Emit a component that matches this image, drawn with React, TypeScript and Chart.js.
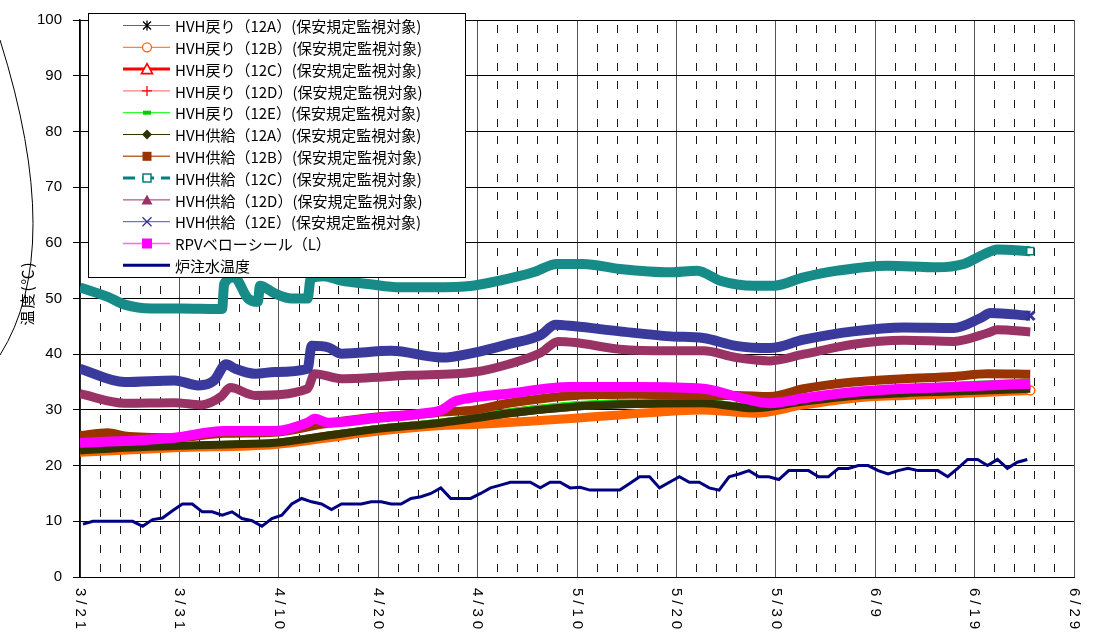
import React, { useEffect, useRef } from "react";
import { Chart, registerables } from "chart.js";

Chart.register(...registerables);

// x tick labels (every 10 days from 3/21)
const xTickLabels = ["3/21", "3/31", "4/10", "4/20", "4/30", "5/10", "5/20", "5/30", "6/9", "6/19", "6/29"];

const seriesNames = [
  "HVH戻り（12A）(保安規定監視対象)",
  "HVH戻り（12B）(保安規定監視対象)",
  "HVH戻り（12C）(保安規定監視対象)",
  "HVH戻り（12D）(保安規定監視対象)",
  "HVH戻り（12E）(保安規定監視対象)",
  "HVH供給（12A）(保安規定監視対象)",
  "HVH供給（12B）(保安規定監視対象)",
  "HVH供給（12C）(保安規定監視対象)",
  "HVH供給（12D）(保安規定監視対象)",
  "HVH供給（12E）(保安規定監視対象)",
  "RPVベローシール（L）",
  "炉注水温度",
];

// days since 3/21
const lowDays = [0, 4.5, 9.5, 15, 19.6, 24.6, 29.6, 36.4, 39.7, 43.1, 49.8, 54.3, 62.7, 67.8, 72.8, 77.8, 82.9, 87.9, 95.6];
const ret12A = [22.3, 23.0, 23.3, 23.6, 23.9, 25.0, 26.2, 27.4, 28.2, 29.1, 30.3, 30.7, 30.9, 30.0, 31.2, 32.2, 32.7, 33.0, 33.5];
const ret12C = [22.9, 23.4, 23.7, 24.0, 24.3, 25.6, 26.8, 28.0, 28.8, 29.8, 31.0, 31.4, 31.5, 30.6, 31.8, 32.8, 33.3, 33.6, 34.1];
const ret12D = [22.8, 23.3, 23.6, 23.9, 24.2, 25.5, 26.7, 27.9, 28.7, 29.6, 30.9, 31.3, 31.4, 30.5, 31.7, 32.7, 33.2, 33.5, 34.0];
const ret12E = [22.9, 23.4, 23.7, 24.0, 24.3, 25.5, 26.8, 28.0, 28.8, 29.8, 31.1, 31.4, 31.5, 30.6, 32.0, 33.2, 34.0, 34.6, 35.2];
const sup12A = [22.7, 23.2, 23.5, 23.8, 24.1, 25.3, 26.5, 27.7, 28.5, 29.4, 30.6, 31.0, 31.2, 30.3, 31.5, 32.5, 33.0, 33.3, 33.8];

const ret12BDays = [0, 9.5, 19.6, 24.6, 29.6, 36.4, 39.7, 49.8, 54.3, 62.7, 67.8, 72.8, 77.8, 82.9, 87.9, 95.6];
const ret12B = [22.4, 23.2, 23.8, 24.9, 26.1, 27.2, 27.4, 28.5, 29.1, 30.0, 29.4, 30.9, 32.1, 32.6, 32.9, 33.5];

const sup12BDays = [0, 2.8, 4.5, 9.5, 14.5, 19.6, 24.6, 29.6, 34.7, 36.4, 39.7, 43.1, 49.8, 56, 62.7, 66, 69.4, 72.8, 77.8, 82.9, 87.9, 91.3, 95.6];
const sup12B = [25.4, 25.9, 25.3, 25.0, 25.8, 26.0, 27.5, 28.7, 29.3, 29.6, 30.0, 31.2, 32.6, 32.8, 32.6, 32.6, 32.4, 33.8, 35.0, 35.6, 36.0, 36.5, 36.4];

const sup12CDays = [0, 2.8, 4.5, 7.2, 10.2, 13.9, 14.3, 14.5, 15.5, 16.9, 17.9, 18.1, 19.6, 21.3, 22.9, 23.2, 24.5, 26.3, 29, 32.2, 35.5, 39.5, 42.2, 45.6, 48, 50.6, 54.3, 59.4, 62.1, 64.4, 67.8, 69.8, 72.8, 76.2, 81.2, 86.2, 88.9, 90.9, 92.3, 95.6];
const sup12C = [52, 50.3, 48.9, 48.2, 48.2, 48.1, 48.1, 52.6, 53.8, 50.0, 49.4, 52.3, 50.9, 50.0, 50.0, 53.5, 54, 53.2, 52.6, 52.0, 52.0, 52.3, 53.2, 54.7, 56.2, 56.2, 55.3, 54.7, 55.0, 53.2, 52.3, 52.3, 53.8, 55.0, 55.9, 55.6, 56.2, 57.9, 58.8, 58.5];

const sup12DDays = [0, 4.5, 9.5, 12.2, 14.2, 15.1, 17.6, 22.9, 23.6, 26.3, 33, 39.7, 43.1, 46.4, 48.1, 49.8, 54.3, 59.4, 62.7, 66, 69.4, 72.8, 77.8, 82.9, 87.9, 91.3, 92.3, 95.6];
const sup12D = [32.9, 31.2, 31.3, 30.9, 32.4, 34.0, 32.6, 33.8, 36.5, 35.6, 36.2, 36.8, 38.2, 40.3, 42.3, 42.1, 40.9, 40.6, 40.6, 39.4, 38.8, 40.0, 41.8, 42.5, 42.3, 43.8, 44.4, 44.0];

const sup12EDays = [0, 4.5, 9.5, 11.9, 13.5, 14.7, 15.6, 17.6, 19.6, 22.9, 23.3, 25, 26.3, 31.3, 36.4, 39.7, 43.1, 46.4, 47.8, 49.8, 54.3, 59.4, 62.7, 66, 69.4, 72.8, 77.8, 82.9, 87.9, 90.6, 91.6, 95.6];
const sup12E = [37.4, 35.0, 35.3, 34.4, 35.3, 38.2, 37.4, 36.5, 36.8, 37.4, 41.5, 41.2, 40.1, 40.6, 39.4, 40.3, 41.8, 43.5, 45.3, 45.0, 44.1, 43.2, 42.9, 41.5, 41.1, 42.6, 44.1, 44.8, 44.7, 46.5, 47.4, 46.9];

const rpvDays = [0, 4.5, 9.5, 14.5, 19.6, 22.9, 23.6, 25, 29.6, 34.7, 36.4, 37.7, 39.1, 43.1, 49.3, 56, 62.7, 66, 69.4, 72.8, 77.8, 82.9, 87.9, 95.6];
const rpv = [24.1, 24.4, 25.0, 26.2, 26.2, 27.7, 28.4, 27.7, 28.5, 29.4, 30.0, 31.5, 32.1, 32.9, 34.1, 34.1, 33.8, 32.4, 31.2, 32.1, 33.2, 33.8, 34.1, 34.7];

// 炉注水温度, one reading per day
const injection = [
  9.5, 10, 10, 10, 10, 10, 9.1, 10.3, 10.6, 11.9, 13.1, 13.1, 11.7, 11.7, 11.1, 11.7, 10.5, 10.1, 9.1, 10.5,
  11.1, 13.1, 14.1, 13.5, 13.1, 12.1, 13.1, 13.1, 13.1, 13.5, 13.5, 13.1, 13.1, 14.1, 14.4, 15.0, 16.0, 14.1, 14.1, 14.1,
  15.0, 16.0, 16.5, 17.0, 17.0, 17.0, 16.0, 17.0, 17.0, 16.0, 16.1, 15.6, 15.6, 15.6, 15.6, 16.8, 18.0, 18.0, 16.0, 17.0,
  18.0, 17.0, 17.0, 16.0, 15.6, 18.0, 18.5, 19.1, 18.0, 18.0, 17.5, 19.1, 19.1, 19.1, 18.0, 18.0, 19.5, 19.5, 20.0, 20.0,
  19.1, 18.5, 19.1, 19.5, 19.1, 19.1, 19.1, 18.0, 19.5, 21.1, 21.1, 20.0, 21.1, 19.5, 20.6, 21.1,
];

const pts = (d: number[], v: number[]) => d.map((x, i) => ({ x, y: v[i] }));
const lastOnly = (n: number, r: number) => Array.from({ length: n }, (_, i) => (i === n - 1 ? r : 0));

type Leg = { line: string; lw: number; dash?: number[]; marker: string; mc: string };
const legendStyles: Leg[] = [
  { line: "#666666", lw: 1, marker: "star", mc: "#000000" },
  { line: "#FF6600", lw: 1, marker: "circleOpen", mc: "#FF6600" },
  { line: "#FF0000", lw: 3, marker: "triOpen", mc: "#FF0000" },
  { line: "#FF6060", lw: 1, marker: "plus", mc: "#FF0000" },
  { line: "#00FF00", lw: 1, marker: "dash", mc: "#00CC00" },
  { line: "#333300", lw: 1, marker: "diamond", mc: "#333300" },
  { line: "#B8663A", lw: 1.5, marker: "square", mc: "#993300" },
  { line: "#008080", lw: 3, dash: [12, 7], marker: "squareOpen", mc: "#008080" },
  { line: "#993366", lw: 1, marker: "triFill", mc: "#993366" },
  { line: "#5050B0", lw: 1, marker: "cross", mc: "#333399" },
  { line: "#FF66FF", lw: 1.5, marker: "squareBig", mc: "#FF00FF" },
  { line: "#000080", lw: 3, marker: "none", mc: "#000080" },
];

function drawMarker(ctx: CanvasRenderingContext2D, kind: string, x: number, y: number, c: string) {
  ctx.save();
  ctx.setLineDash([]);
  ctx.strokeStyle = c;
  ctx.fillStyle = c;
  ctx.lineWidth = 1.3;
  ctx.beginPath();
  switch (kind) {
    case "star":
      ctx.moveTo(x - 4, y - 4); ctx.lineTo(x + 4, y + 4);
      ctx.moveTo(x + 4, y - 4); ctx.lineTo(x - 4, y + 4);
      ctx.moveTo(x, y - 5); ctx.lineTo(x, y + 5);
      ctx.stroke();
      break;
    case "circleOpen":
      ctx.arc(x, y, 4.5, 0, Math.PI * 2);
      ctx.fillStyle = "#fff"; ctx.fill(); ctx.stroke();
      break;
    case "triOpen":
      ctx.moveTo(x, y - 5.5); ctx.lineTo(x + 5.5, y + 4.5); ctx.lineTo(x - 5.5, y + 4.5); ctx.closePath();
      ctx.fillStyle = "#fff"; ctx.fill(); ctx.lineWidth = 1.6; ctx.stroke();
      break;
    case "plus":
      ctx.moveTo(x - 5, y); ctx.lineTo(x + 5, y);
      ctx.moveTo(x, y - 5); ctx.lineTo(x, y + 5);
      ctx.stroke();
      break;
    case "dash":
      ctx.fillRect(x - 4, y - 2, 8, 4);
      break;
    case "diamond":
      ctx.moveTo(x, y - 5); ctx.lineTo(x + 5, y); ctx.lineTo(x, y + 5); ctx.lineTo(x - 5, y); ctx.closePath();
      ctx.fill();
      break;
    case "square":
      ctx.fillRect(x - 4.5, y - 4.5, 9, 9);
      break;
    case "squareBig":
      ctx.fillRect(x - 5, y - 5, 10, 10);
      break;
    case "squareOpen":
      ctx.rect(x - 4, y - 4, 8, 8);
      ctx.fillStyle = "#fff"; ctx.fill(); ctx.lineWidth = 1.5; ctx.stroke();
      break;
    case "triFill":
      ctx.moveTo(x, y - 5.5); ctx.lineTo(x + 5.5, y + 4.5); ctx.lineTo(x - 5.5, y + 4.5); ctx.closePath();
      ctx.fill();
      break;
    case "cross":
      ctx.moveTo(x - 4.5, y - 4.5); ctx.lineTo(x + 4.5, y + 4.5);
      ctx.moveTo(x + 4.5, y - 4.5); ctx.lineTo(x - 4.5, y + 4.5);
      ctx.stroke();
      break;
  }
  ctx.restore();
}

const decorPlugin = {
  id: "decor",
  beforeDatasetsDraw(chart: any) {
    const { ctx, scales } = chart;
    const x = scales.x;
    const y = scales.y;
    ctx.save();
    ctx.strokeStyle = "#1a1a1a";
    ctx.lineWidth = 1;
    ctx.beginPath();
    for (let d = 2; d < 100; d += 2) {
      if (d % 10 === 0) continue;
      const px = Math.round(x.getPixelForValue(d)) + 0.5;
      for (let k = 0; k < 10; k++) {
        const top = y.getPixelForValue((k + 1) * 10);
        for (const off of [5, 24, 43]) {
          ctx.moveTo(px, Math.round(top + off));
          ctx.lineTo(px, Math.round(top + off + 8));
        }
      }
    }
    ctx.stroke();
    ctx.restore();
  },
  afterDraw(chart: any) {
    const { ctx, scales } = chart;
    const x = scales.x;
    // rotated x labels (clockwise)
    ctx.save();
    ctx.fillStyle = "#000";
    ctx.font = '15px "Liberation Sans", Arial, sans-serif';
    (ctx as any).letterSpacing = "4px";
    xTickLabels.forEach((lab, i) => {
      const px = x.getPixelForValue(i * 10);
      ctx.save();
      ctx.translate(px, 588);
      ctx.rotate(Math.PI / 2);
      ctx.textAlign = "left";
      ctx.textBaseline = "middle";
      ctx.fillText(lab, 0, 0);
      ctx.restore();
    });
    ctx.restore();

    // y axis title
    ctx.save();
    ctx.fillStyle = "#000";
    ctx.font = '15px "Noto Sans CJK JP", sans-serif';
    (ctx as any).letterSpacing = "2px";
    ctx.translate(27, 293);
    ctx.rotate(-Math.PI / 2);
    ctx.textAlign = "center";
    ctx.textBaseline = "middle";
    ctx.fillText("温度(℃)", 0, 0);
    ctx.restore();
    ctx.save();
    ctx.strokeStyle = "#000";
    ctx.lineWidth = 1;
    ctx.beginPath();
    ctx.moveTo(0, 40);
    ctx.quadraticCurveTo(66, 250, 0, 355);
    ctx.stroke();
    ctx.restore();

    // legend box
    const bx = 88.5, by = 13.5, bw = 377, bh = 264;
    ctx.save();
    ctx.fillStyle = "#fff";
    ctx.fillRect(bx, by, bw, bh);
    ctx.strokeStyle = "#000";
    ctx.lineWidth = 1;
    ctx.strokeRect(bx, by, bw, bh);
    ctx.font = '15px "Noto Sans CJK JP", sans-serif';
    ctx.textBaseline = "middle";
    ctx.textAlign = "left";
    seriesNames.forEach((name, i) => {
      const cy = 25.5 + i * 21.8;
      const st = legendStyles[i];
      ctx.save();
      ctx.strokeStyle = st.line;
      ctx.lineWidth = st.lw;
      ctx.setLineDash(st.dash || []);
      ctx.beginPath();
      ctx.moveTo(123, cy);
      ctx.lineTo(170, cy);
      ctx.stroke();
      ctx.restore();
      drawMarker(ctx, st.marker, 147, cy, st.mc);
      ctx.fillStyle = "#000";
      ctx.fillText(name, 175, cy + 1);
    });
    ctx.restore();
  },
};

export default function App() {
  const ref = useRef<HTMLCanvasElement>(null);
  useEffect(() => {
    const canvas = ref.current!;
    const mk = (i: number, data: any[], color: string, width: number, extra: any = {}) => ({
      label: seriesNames[i],
      data,
      borderColor: color,
      backgroundColor: color,
      borderWidth: width,
      pointRadius: 0,
      cubicInterpolationMode: "monotone",
      order: 12 - i,
      ...extra,
    });
    const navyData = injection.map((v, i) => ({ x: i + 0.3, y: v }));
    const chart = new Chart(canvas, {
      type: "line",
      data: {
        datasets: [
          mk(0, pts(lowDays, ret12A), "#404040", 5),
          mk(1, pts(ret12BDays, ret12B), "#FF6600", 9, {
            pointRadius: lastOnly(ret12BDays.length, 4.5),
            pointStyle: "circle",
            pointBackgroundColor: "#fff",
            pointBorderColor: "#FF6600",
            pointBorderWidth: 1.5,
          }),
          mk(2, pts(lowDays, ret12C), "#FF0000", 5),
          mk(3, pts(lowDays, ret12D), "#FF6060", 5),
          mk(4, pts(lowDays, ret12E), "#00FF00", 5),
          mk(5, pts(lowDays, sup12A), "#333300", 8),
          mk(6, pts(sup12BDays, sup12B), "#993300", 9),
          mk(7, pts(sup12CDays, sup12C), "#168B87", 10, {
            pointRadius: lastOnly(sup12CDays.length, 5),
            pointStyle: "rect",
            pointBackgroundColor: "#fff",
            pointBorderColor: "#008080",
            pointBorderWidth: 1.5,
          }),
          mk(8, pts(sup12DDays, sup12D), "#993366", 9),
          mk(9, pts(sup12EDays, sup12E), "#3A3A9C", 10, {
            pointRadius: lastOnly(sup12EDays.length, 6),
            pointStyle: "crossRot",
            pointBorderColor: "#333399",
            pointBorderWidth: 3,
          }),
          mk(10, pts(rpvDays, rpv), "#FF00FF", 10),
          mk(11, navyData, "#000080", 3, { cubicInterpolationMode: "default", tension: 0 }),
        ] as any,
      },
      options: {
        animation: false,
        responsive: false,
        maintainAspectRatio: false,
        layout: { padding: { top: 10, right: 30, left: 0, bottom: 0 } },
        plugins: { legend: { display: false }, tooltip: { enabled: false } },
        scales: {
          x: {
            type: "linear",
            min: 0,
            max: 100,
            ticks: { display: false, stepSize: 10 },
            grid: { color: "#555", lineWidth: 1, drawTicks: false },
            border: { color: "#000", width: 1 },
            afterFit: (s: any) => { s.height = 60; },
          },
          y: {
            type: "linear",
            min: 0,
            max: 100,
            ticks: {
              stepSize: 10,
              color: "#000",
              font: { family: '"Liberation Sans", Arial, sans-serif', size: 15 },
              padding: 11,
            },
            grid: { color: "#000", lineWidth: 1, tickLength: 7 },
            border: { color: "#000", width: 1.5 },
            afterFit: (s: any) => { s.width = 80; },
          },
        },
      } as any,
      plugins: [decorPlugin],
    });
    return () => chart.destroy();
  }, []);
  return (
    <div style={{ position: "absolute", left: 0, top: 0, width: 1104, height: 637, background: "#fff" }}>
      <canvas ref={ref} width={1104} height={637} style={{ width: 1104, height: 637, display: "block" }} />
    </div>
  );
}
